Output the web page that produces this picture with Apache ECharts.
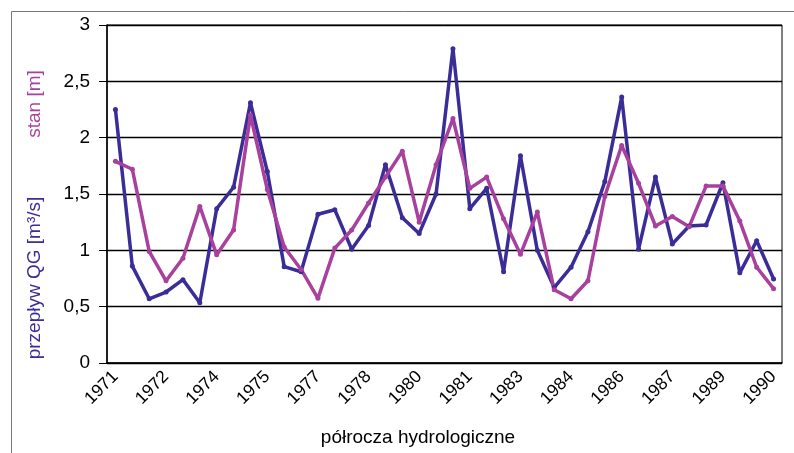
<!DOCTYPE html>
<html>
<head>
<meta charset="utf-8">
<script src="https://cdn.jsdelivr.net/npm/echarts@6/dist/echarts.min.js"></script>
<style>
  html, body { margin: 0; padding: 0; background: #fff; }
  #echart { width: 794px; height: 453px; }
</style>
</head>
<body>
<div id="echart"></div>
<script>
// półrocza hydrologiczne 1971-1990 (2 na rok)
const years = [];
for (let y = 1971; y <= 1990; y++) { years.push(String(y), String(y)); }

// przepływ QG [m3/s]
const flowQG = [2.25, 0.86, 0.57, 0.63, 0.74, 0.535, 1.37, 1.56, 2.31, 1.70,
                0.855, 0.81, 1.32, 1.36, 1.01, 1.22, 1.76, 1.29, 1.15, 1.50,
                2.79, 1.37, 1.55, 0.81, 1.84, 1.00, 0.67, 0.85, 1.165, 1.61,
                2.36, 1.01, 1.65, 1.056, 1.216, 1.225, 1.60, 0.80, 1.085, 0.745];

// stan [m]
const stage = [1.79, 1.72, 0.99, 0.73, 0.93, 1.39, 0.96, 1.18, 2.20, 1.54,
               1.03, 0.83, 0.574, 1.02, 1.18, 1.42, 1.65, 1.88, 1.25, 1.76,
               2.17, 1.55, 1.65, 1.28, 0.965, 1.34, 0.65, 0.57, 0.73, 1.48,
               1.93, 1.595, 1.216, 1.30, 1.21, 1.57, 1.57, 1.26, 0.85, 0.66];

const blue = '#3b2d97';
const pink = '#a8419e';
const fontFam = '"Liberation Sans", Arial, sans-serif';

const chart = echarts.init(document.getElementById('echart'));

const option = {
    animation: false,
    backgroundColor: '#fff',
    grid: {
        left: 107, top: 25, right: 12, bottom: 90,
        show: true, borderColor: '#000', borderWidth: 1
    },
    xAxis: {
        type: 'category',
        data: years,
        boundaryGap: true,
        axisLine: { lineStyle: { color: '#000', width: 1.5 } },
        axisTick: { interval: 0, length: 6, lineStyle: { color: '#000' } },
        axisLabel: {
            interval: 2, rotate: 45, color: '#000',
            fontSize: 17.5, fontFamily: fontFam, margin: 11
        },
        splitLine: { show: false }
    },
    yAxis: {
        type: 'value',
        min: 0, max: 3, interval: 0.5,
        axisLine: { show: true, lineStyle: { color: '#000', width: 1.5 } },
        axisTick: { show: true, length: 8, lineStyle: { color: '#000' } },
        axisLabel: {
            color: '#000', fontSize: 19, fontFamily: fontFam, margin: 17,
            formatter: v => String(v).replace('.', ',')
        },
        splitLine: { lineStyle: { color: '#000', width: 1.3 } }
    },
    series: [
        {
            name: 'przepływ QG',
            type: 'line',
            data: flowQG,
            symbol: 'circle', symbolSize: 5,
            itemStyle: { color: blue },
            lineStyle: { color: blue, width: 3.5 }
        },
        {
            name: 'stan',
            type: 'line',
            data: stage,
            symbol: 'circle', symbolSize: 5,
            itemStyle: { color: pink },
            lineStyle: { color: pink, width: 3.5 }
        }
    ],
    graphic: [
        {
            type: 'rect', left: 9, top: 9, silent: true,
            shape: { width: 820, height: 480 },
            style: { fill: 'none', stroke: '#777', lineWidth: 1 }
        },
        {
            type: 'text', x: 35, y: 278, rotation: Math.PI / 2,
            style: {
                text: 'przepływ QG [m³/s]', fill: blue, fontSize: 19,
                fontFamily: fontFam, align: 'center', verticalAlign: 'middle'
            }
        },
        {
            type: 'text', x: 35, y: 104, rotation: Math.PI / 2,
            style: {
                text: 'stan [m]', fill: pink, fontSize: 19,
                fontFamily: fontFam, align: 'center', verticalAlign: 'middle'
            }
        },
        {
            type: 'text', x: 418, y: 438,
            style: {
                text: 'półrocza hydrologiczne', fill: '#000', fontSize: 19,
                fontFamily: fontFam, align: 'center', verticalAlign: 'middle'
            }
        }
    ]
};

chart.setOption(option);
</script>
</body>
</html>
